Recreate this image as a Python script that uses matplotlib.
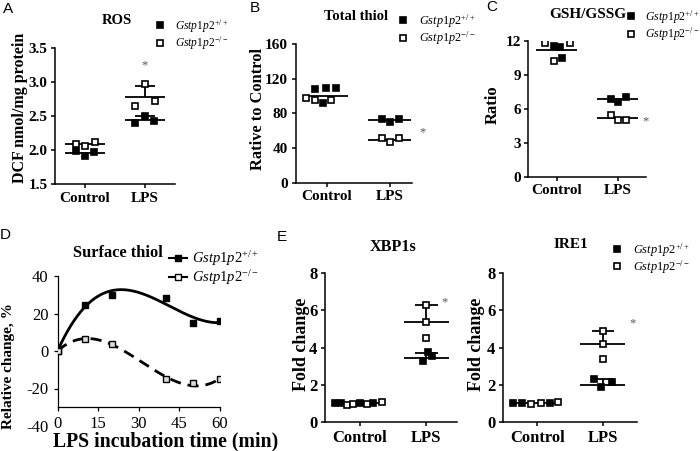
import numpy as np
import matplotlib.pyplot as plt
from matplotlib.lines import Line2D

plt.rcParams['font.family'] = 'Liberation Serif'
plt.rcParams['mathtext.fontset'] = 'custom'
plt.rcParams['mathtext.it'] = 'Liberation Serif:italic'
plt.rcParams['mathtext.rm'] = 'Liberation Serif'
plt.rcParams['axes.unicode_minus'] = False

groups = ['Control', 'LPS']
lab_wt = r'$\mathit{Gstp1p2}^{\mathrm{+/+}}$'
lab_ko = r'$\mathit{Gstp1p2}^{\mathrm{-/-}}$'

# A  ROS
ros_wt_ctrl = [1.98, 1.91, 1.97]
ros_ko_ctrl = [2.09, 2.06, 2.11]
ros_wt_lps = [2.39, 2.50, 2.42]
ros_ko_lps = [2.65, 2.97, 2.72]
ros_means = [(0, 2.09), (0, 1.95), (1, 2.77), (1, 2.44)]
ros_sd = [(1, 2.77, 2.945), (1, 2.44, 2.50)]
ros_star = (1, 3.24)

# B  total thiol
tt_wt_ctrl = [108, 110, 109, 92.5]
tt_ko_ctrl = [98, 95.5, 95.5]
tt_wt_lps = [73.8, 70.4, 74.2]
tt_ko_lps = [51.5, 46.5, 51.5]
tt_means = [(0, 100), (1, 72.5), (1, 49.2)]
tt_star = (1.52, 58.8)

# C  GSH/GSSG
gsh_wt_ctrl = [11.53, 11.47, 10.5]
gsh_ko_ctrl = [11.82, 11.76, 10.2]
gsh_wt_lps = [6.85, 6.59, 7.06]
gsh_ko_lps = [5.44, 5.0, 5.0]
gsh_means = [(0, 11.2), (1, 6.82), (1, 5.18)]
gsh_star = (1.46, 4.85)

# D  surface thiol
time_min = [0, 10, 20, 40, 50, 60]
surf_wt = [0, 24.7, 30, 28.3, 14.9, 16]
surf_ko = [0, 6.6, 3.9, -15.1, -17.1, -15.1]

# E  XBP1s / IRE1
xbp_wt_ctrl = [1.0, 1.0, 1.0, 1.0]
xbp_ko_ctrl = [0.9, 0.95, 0.97, 1.05]
xbp_wt_lps = [3.77, 3.56, 3.26]
xbp_ko_lps = [6.31, 5.39, 4.53]
xbp_means = [(0, 1.0), (1, 5.39), (1, 3.47)]
xbp_sd = [(1, 5.39, 6.31), (1, 3.47, 3.73)]
xbp_star = (1.27, 6.43)

ire_wt_ctrl = [1.02, 1.0, 1.0]
ire_ko_ctrl = [0.95, 1.0, 1.05]
ire_wt_lps = [2.31, 1.87, 2.13]
ire_ko_lps = [4.89, 4.21, 3.38]
ire_means = [(0, 1.0), (1, 4.21), (1, 1.99)]
ire_sd = [(1, 4.21, 4.89), (1, 1.99, 2.30)]
ire_star = (1.45, 5.3)

# horizontal jitter of the dots (layout only)
jit = {
    'ros': [[-0.15, 0.0, 0.15], [-0.15, 0.0, 0.16], [-0.17, 0.0, 0.15], [-0.17, 0.0, 0.17]],
    'tt': [[-0.2, -0.02, 0.14, -0.06], [-0.33, -0.19, 0.07], [-0.12, 0.0, 0.14], [-0.12, 0.0, 0.14]],
    'gsh': [[-0.04, 0.05, 0.08], [-0.19, 0.21, -0.04], [-0.11, 0.0, 0.14], [-0.11, 0.0, 0.14]],
    'xbp': [[-0.38, -0.29, 0.0, 0.2], [-0.2, -0.1, 0.1, 0.33], [0.02, 0.08, -0.05], [0, 0, 0]],
    'ire': [[-0.37, -0.24, 0.19], [-0.09, 0.06, 0.32], [-0.14, -0.02, 0.14], [0, 0, 0]],
}

W, H = 700, 451
fig = plt.figure(figsize=(7, 4.51), dpi=100)


def px_axes(l, t, r, b):
    return fig.add_axes([l / W, 1 - b / H, (r - l) / W, (b - t) / H])


def fig_text(x, y, s, **kw):
    fig.text(x / W, 1 - y / H, s, ha='center', va='center', **kw)


def dot_panel(ax, vals, dxs, means, sds, star, ylim, yticks, xlim, fs):
    for g, y in means:
        ax.hlines(y, g - 0.34, g + 0.34, color='k', lw=1.3, zorder=2)
    for g, m, s in sds:
        ax.hlines(s, g - 0.17, g + 0.17, color='k', lw=1.3, zorder=2)
        ax.vlines(g, m, s, color='k', lw=1.3, zorder=2)
    handles = []
    for i, (v, dx) in enumerate(zip(vals, dxs)):
        g = i // 2
        filled = i % 2 == 0
        h, = ax.plot(g + np.array(dx), v, 's', ms=4.3, mew=1.2, mec='k',
                     mfc='k' if filled else 'white', ls='none', zorder=3)
        handles.append(h)
    ax.text(star[0], star[1], '*', ha='center', va='center', fontsize=9,
            color='#555555')
    ax.set_xlim(*xlim)
    ax.set_ylim(*ylim)
    ax.set_yticks(yticks)
    ax.set_xticks([0, 1])
    ax.set_xticklabels(groups)
    for sp in ['top', 'right']:
        ax.spines[sp].set_visible(False)
    for sp in ['left', 'bottom']:
        ax.spines[sp].set_linewidth(1.1)
    ax.tick_params(length=3, width=1.1, pad=2.5, labelsize=fs)
    for lbl in ax.get_xticklabels() + ax.get_yticklabels():
        lbl.set_fontweight('bold')
    return handles[0], handles[1]


def add_legend(ax, handles, x, y, fs, hl=0.8, tp=0.9, sp=0.0):
    ax.legend(handles=handles, labels=[lab_wt, lab_ko], loc='upper left',
              bbox_to_anchor=(x / W, 1 - y / H), bbox_transform=fig.transFigure,
              frameon=False, fontsize=fs, handlelength=hl, handletextpad=tp,
              labelspacing=sp, borderpad=0, borderaxespad=0)


# A
ax = px_axes(55, 47.7, 175, 184)
h = dot_panel(ax, [ros_wt_ctrl, ros_ko_ctrl, ros_wt_lps, ros_ko_lps], jit['ros'],
              ros_means, ros_sd, ros_star, (1.5, 3.5), [1.5, 2.0, 2.5, 3.0, 3.5],
              (-0.5, 1.5), 11)
ax.set_yticklabels(['1.5', '2.0', '2.5', '3.0', '3.5'])
add_legend(ax, h, 155, 17, 8.3)
fig_text(117, 21, 'ROS', fontsize=10.5, fontweight='bold')
fig_text(20, 107.5, 'DCF nmol/mg protein', fontsize=11.5, fontweight='bold', rotation=90)

# B
ax = px_axes(295.7, 44.3, 412.3, 182.7)
h = dot_panel(ax, [tt_wt_ctrl, tt_ko_ctrl, tt_wt_lps, tt_ko_lps], jit['tt'],
              tt_means, [], tt_star, (0, 160), [0, 40, 80, 120, 160],
              (-0.5, 1.36), 11)
add_legend(ax, h, 398, 12, 8.8)
fig_text(356.5, 16.7, 'Total thiol', fontsize=10.5, fontweight='bold')
fig_text(257.5, 109, 'Rative to Control', fontsize=11.8, fontweight='bold', rotation=90)

# C
ax = px_axes(528.3, 40.7, 645.5, 176.7)
h = dot_panel(ax, [gsh_wt_ctrl, gsh_ko_ctrl, gsh_wt_lps, gsh_ko_lps], jit['gsh'],
              gsh_means, [], gsh_star, (0, 12), [0, 3, 6, 9, 12],
              (-0.47, 1.46), 11)
add_legend(ax, h, 626.5, 8, 8.5, tp=0.8)
fig_text(588, 14.5, 'GSH/GSSG', fontsize=11, fontweight='bold')
fig_text(492.5, 105, 'Ratio', fontsize=12, fontweight='bold', rotation=90)

# D
ax = px_axes(57.7, 276, 220, 426)
ax.plot(time_min, surf_wt, 's', ms=4, mfc='k', mec='k', mew=1, zorder=3)
ax.plot(time_min, surf_ko, 's', ms=4, mfc='#dddddd', mec='k', mew=1, zorder=3)
xs = np.linspace(0, 60, 200)
ax.plot(xs, np.polyval(np.polyfit(time_min, surf_wt, 3), xs), color='k', lw=2)
ax.plot(xs, np.polyval(np.polyfit(time_min, surf_ko, 3), xs), color='k', lw=2,
        dashes=(4, 2.5))
ax.set_xlim(0, 60)
ax.set_ylim(-40, 40)
ax.set_xticks([0, 15, 30, 45, 60])
ax.set_yticks([40, 20, 0, -20, -40])
for sp in ['top', 'right']:
    ax.spines[sp].set_visible(False)
ax.spines['bottom'].set_position(('data', -30))
ax.spines['left'].set_bounds(-30, 40)
for sp in ['left', 'bottom']:
    ax.spines[sp].set_linewidth(0.9)
ax.tick_params(length=3, width=0.9, labelsize=12)
ax.tick_params(axis='x', pad=3)
ax.yaxis.get_major_ticks()[-1].tick1line.set_visible(False)
d_handles = [Line2D([], [], color='k', lw=1.5, marker='s', ms=4, mfc='k', mec='k'),
             Line2D([], [], color='k', lw=1.5, marker='s', ms=4, mfc='white', mec='k')]
add_legend(ax, d_handles, 169, 249, 10.5, hl=1.2, tp=0.4)
fig_text(118, 253, 'Surface thiol', fontsize=11.8, fontweight='bold')
fig_text(9, 366, 'Relative change, %', fontsize=11, fontweight='bold', rotation=90)
fig_text(166, 441, 'LPS incubation time (min)', fontsize=14.2, fontweight='bold')

# E  XBP1s
ax = px_axes(325, 273.3, 456.7, 422)
dot_panel(ax, [xbp_wt_ctrl, xbp_ko_ctrl, xbp_wt_lps, xbp_ko_lps], jit['xbp'],
          xbp_means, xbp_sd, xbp_star, (0, 8), [0, 2, 4, 6, 8],
          (-0.53, 1.46), 12)
fig_text(393, 246.7, 'XBP1s', fontsize=11.6, fontweight='bold')
fig_text(301, 344, 'Fold change', fontsize=13, fontweight='bold', rotation=90)

# E  IRE1
ax = px_axes(503, 273.3, 636.7, 422)
h = dot_panel(ax, [ire_wt_ctrl, ire_ko_ctrl, ire_wt_lps, ire_ko_lps], jit['ire'],
              ire_means, ire_sd, ire_star, (0, 8), [0, 2, 4, 6, 8],
              (-0.525, 1.52), 12)
add_legend(ax, h, 612, 241, 8.9)
fig_text(570.5, 245, 'IRE1', fontsize=11, fontweight='bold')
fig_text(476, 344, 'Fold change', fontsize=13, fontweight='bold', rotation=90)

# panel letters
for letter, x, y in [('A', 8, 9), ('B', 255, 8), ('C', 492, 7), ('D', 5, 235), ('E', 282, 237)]:
    fig_text(x, y, letter, fontsize=11, family='Liberation Sans')

fig.savefig('out.png', dpi=100)
